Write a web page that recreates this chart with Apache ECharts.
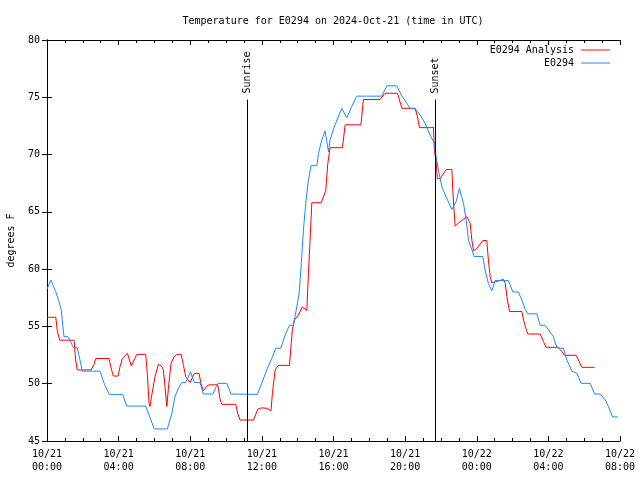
<!DOCTYPE html>
<html><head><meta charset="utf-8">
<script src="https://cdn.jsdelivr.net/npm/echarts@6/dist/echarts.min.js"></script>
<style>html,body{margin:0;padding:0;background:#fff}#c{width:640px;height:480px}</style>
</head><body><div id="c"></div>
<script>
// hours since 2024-10-21 00:00 UTC
const analysisHours = [0.0,0.49,0.58,0.71,1.51,1.60,1.69,2.47,2.63,2.72,3.46,3.56,3.70,3.97,4.08,4.21,4.49,4.71,5.01,5.51,5.60,5.70,5.75,5.79,5.85,6.03,6.22,6.41,6.50,6.59,6.69,6.78,6.93,7.11,7.25,7.49,7.62,7.75,7.99,8.23,8.49,8.60,8.73,9.01,9.54,9.66,9.76,10.54,10.65,10.78,11.53,11.77,11.99,12.27,12.51,12.59,12.74,12.92,13.54,13.61,13.70,13.82,14.04,14.26,14.51,14.60,14.69,14.79,15.31,15.44,15.57,15.68,15.81,16.50,16.65,17.53,17.67,18.60,18.88,19.57,19.82,20.56,20.69,20.80,21.45,21.58,21.64,21.73,21.80,21.96,22.29,22.61,22.66,22.79,23.07,23.45,23.56,23.63,23.73,23.82,24.01,24.34,24.56,24.65,24.75,24.84,25.03,25.49,25.59,25.68,25.83,26.52,26.61,26.76,26.85,27.54,27.73,27.86,28.53,28.76,28.90,29.55,29.72,29.87,30.58];
const analysisTemps = [55.8,55.8,54.55,53.8,53.8,52.07,51.2,51.2,51.7,52.2,52.2,51.5,50.67,50.67,51.5,52.2,52.65,51.55,52.56,52.56,50.9,48.3,48.0,48.43,49.0,50.6,51.7,51.5,51.2,49.74,48.0,49.6,51.8,52.36,52.56,52.56,51.6,50.6,50.1,50.9,50.9,50.03,49.4,49.9,49.9,48.7,48.2,48.2,47.4,46.83,46.83,47.77,47.9,47.85,47.65,49.2,51.2,51.6,51.6,52.94,54.7,55.56,56.0,56.7,56.4,59.6,62.5,65.8,65.8,66.3,66.9,69.2,70.6,70.6,72.6,72.6,74.8,74.8,75.35,75.35,74.04,74.04,73.3,72.35,72.35,72.4,70.25,69.4,67.9,67.9,68.7,68.7,66.9,63.76,64.14,64.58,64.58,64.0,62.5,61.6,61.8,62.5,62.5,60.8,59.34,58.8,58.9,59.1,58.76,57.6,56.3,56.3,55.56,54.75,54.34,54.34,53.67,53.18,53.18,52.8,52.48,52.48,51.92,51.43,51.43];
const stationHours = [0.0,0.21,0.49,0.67,0.80,0.85,0.95,1.17,1.32,1.47,1.69,1.84,1.97,2.96,3.22,3.48,4.23,4.45,5.51,5.99,6.72,6.97,7.15,7.34,7.53,7.75,8.01,8.23,8.55,8.73,9.26,9.54,10.04,10.28,11.75,11.99,12.27,12.55,12.78,13.06,13.30,13.54,13.76,13.95,14.08,14.19,14.32,14.45,14.60,14.75,15.07,15.16,15.35,15.53,15.72,15.81,16.09,16.46,16.74,17.02,17.30,18.70,18.98,19.54,19.82,20.09,20.28,20.56,20.84,21.12,21.40,21.62,21.73,21.86,22.05,22.29,22.61,22.85,23.03,23.26,23.41,23.54,23.73,23.85,24.34,24.47,24.65,24.84,25.03,25.77,26.02,26.33,26.52,26.70,26.85,27.36,27.54,27.82,28.01,28.28,28.47,28.66,28.84,29.03,29.31,29.59,29.83,30.34,30.58,30.89,31.17,31.36,31.58,31.88];
const stationTemps = [58.24,59.05,58.03,57.16,56.4,55.56,54.1,54.1,53.67,53.15,53.15,52.07,51.1,51.1,49.9,49.07,49.07,48.05,48.05,46.05,46.05,47.4,48.87,49.6,50.1,50.1,51.05,50.1,50.1,49.1,49.1,50.03,50.03,49.1,49.07,50.03,51.2,52.2,53.1,53.1,54.25,55.1,55.1,56.7,57.9,60.2,63.4,65.75,67.8,69.03,69.03,70.1,71.3,72.06,70.25,71.3,72.6,74.04,73.2,74.2,75.1,75.1,76.0,76.0,75.1,74.5,74.0,74.0,73.45,72.7,71.7,71.0,69.8,68.65,67.2,66.3,65.2,65.9,67.05,65.75,64.3,62.5,61.7,61.1,61.1,59.9,58.75,58.1,59.0,59.0,58.0,58.0,57.3,56.5,56.1,56.1,55.1,55.1,54.7,54.1,53.2,53.1,53.1,52.07,51.1,50.9,50.03,50.03,49.1,49.1,48.6,48.0,47.1,47.1];
const seriesNames = ['E0294 Analysis','E0294'];
const sunEvents = [{name:'Sunrise', hour:11.17},{name:'Sunset', hour:21.68}];
const sunLineTop = 74.8;
const yMin = 45, yMax = 80, yStep = 5;
const xMin = 0, xMax = 32, xStep = 4;
const dayLabels = ['10/21','10/22'];

const FONT = 'DejaVu Sans Mono';
const pad = n => (n < 10 ? '0' : '') + n;
function xLabel(v){ const d = Math.floor(v/24); const h = v - 24*d; return dayLabels[d] + '\n' + pad(h) + ':00'; }
const zip = (a,b) => a.map((x,i)=>[x,b[i]]);

const chart = echarts.init(document.getElementById('c'), null, {renderer:'canvas'});
const axisCommon = {
  type:'value', axisLine:{show:true, lineStyle:{color:'#000', width:1}},
  splitLine:{show:false}
};
chart.setOption({
  animation:false,
  backgroundColor:'#fff',
  title:{text:'Temperature for E0294 on 2024-Oct-21 (time in UTC)', left:328, top:11, textAlign:'center',
    textStyle:{fontFamily:FONT, fontSize:10, fontWeight:'normal', color:'#000'}},
  legend:{orient:'vertical', right:30, top:45, padding:0, align:'right', itemWidth:29, itemHeight:10, itemGap:3,
    textStyle:{fontFamily:FONT, fontSize:10, color:'#000', padding:[0,2,0,0]},
    data:seriesNames.map(n=>({name:n, icon:'path://M0,0 L30,0 L30,1 L0,1 Z'}))},
  grid:{left:47, right:20, top:40, bottom:39, containLabel:false, outerBoundsMode:'none'},
  xAxis:[
    Object.assign({}, axisCommon, {min:xMin, max:xMax, interval:xStep, position:'bottom',
      axisTick:{show:true, inside:true, length:5, lineStyle:{color:'#000'}},
      minorTick:{show:true, splitNumber:4, length:3, lineStyle:{color:'#000'}},
      axisLabel:{formatter:xLabel, fontFamily:FONT, fontSize:10, color:'#000', lineHeight:13, margin:7}}),
    Object.assign({}, axisCommon, {min:xMin, max:xMax, interval:xStep, position:'top',
      axisTick:{show:true, inside:true, length:5, lineStyle:{color:'#000'}},
      minorTick:{show:true, splitNumber:4, length:3, lineStyle:{color:'#000'}},
      axisLabel:{show:false}})
  ],
  yAxis:[
    Object.assign({}, axisCommon, {min:yMin, max:yMax, interval:yStep, position:'left',
      name:'degrees F', nameLocation:'middle', nameGap:31, nameRotate:90,
      nameTextStyle:{fontFamily:FONT, fontSize:10, color:'#000'},
      axisTick:{show:true, inside:true, length:5, lineStyle:{color:'#000'}},
      axisLabel:{fontFamily:FONT, fontSize:10, color:'#000', margin:7}}),
    Object.assign({}, axisCommon, {min:yMin, max:yMax, interval:yStep, position:'right',
      axisTick:{show:true, inside:true, length:5, lineStyle:{color:'#000'}},
      axisLabel:{show:false}})
  ],
  series:[
    {name:seriesNames[0], type:'line', data:zip(analysisHours, analysisTemps), symbol:'none',
      lineStyle:{color:'#ff0000', width:1}, itemStyle:{color:'#ff0000'}, z:2,
      markLine:{silent:true, symbol:['none','none'], label:{show:false},
        lineStyle:{color:'#000', width:1, type:'solid'},
        data: sunEvents.map(s=>[{coord:[s.hour, yMin]},{coord:[s.hour, sunLineTop]}])}},
    {name:seriesNames[1], type:'line', data:zip(stationHours, stationTemps), symbol:'none',
      lineStyle:{color:'#1e88ff', width:1}, itemStyle:{color:'#1e88ff'}, z:3}
  ]
});
const g = sunEvents.map(s=>{
  const p = chart.convertToPixel({xAxisIndex:0, yAxisIndex:0}, [s.hour, sunLineTop]);
  return {type:'text', x:p[0], y:p[1]-6, rotation:Math.PI/2,
    style:{text:s.name, fontFamily:FONT, fontSize:10, fill:'#000', align:'left', verticalAlign:'middle'}};
});
chart.setOption({graphic:g});
</script></body></html>
